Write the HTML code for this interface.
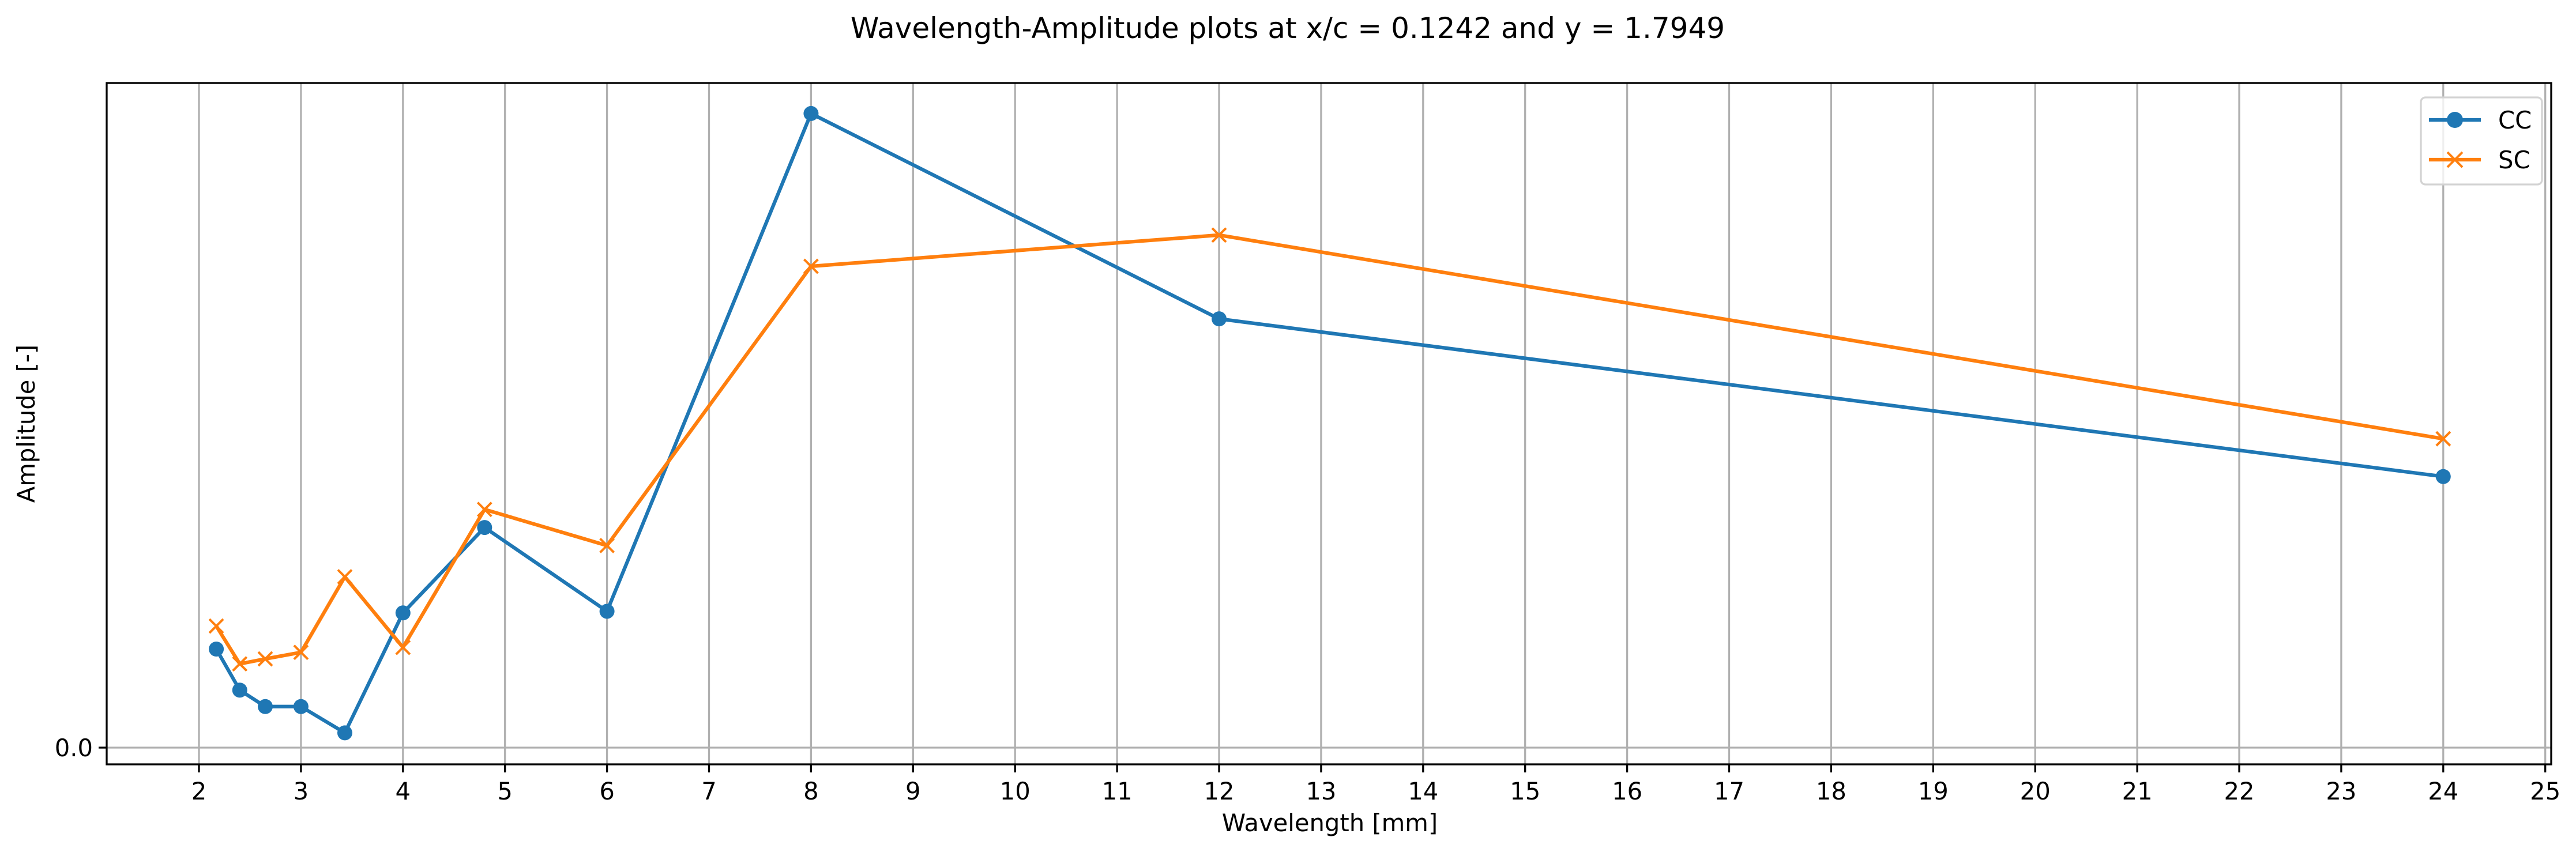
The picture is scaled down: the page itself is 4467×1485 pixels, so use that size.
<!DOCTYPE html>
<html><head><meta charset="utf-8"><style>html,body{margin:0;padding:0;background:#fff}svg{display:block}text{font-family:"DejaVu Sans","Liberation Sans",sans-serif}</style></head>
<body>
<svg id="chart" width="4467" height="1485" viewBox="0 0 4467 1485" xmlns="http://www.w3.org/2000/svg">
<rect width="4467" height="1485" fill="#fff"/>
<text x="2233" y="66" font-size="50" text-anchor="middle">Wavelength-Amplitude plots at x/c = 0.1242 and y = 1.7949</text>
<g id="grid"></g>
<g id="series"></g>
<g id="axes"></g>
<text x="2306" y="1442" font-size="41.7" text-anchor="middle">Wavelength [mm]</text>
<text x="0" y="0" font-size="41.7" text-anchor="middle" transform="translate(60,735) rotate(-90)">Amplitude [-]</text>
<g>
<rect x="4198" y="169" width="210" height="151" rx="8" fill="#fff" fill-opacity="0.8" stroke="#d3d3d3" stroke-width="3.3"/>
<line x1="4212" y1="208" x2="4302" y2="208" stroke="#1f77b4" stroke-width="6.25"/>
<circle cx="4257" cy="208" r="14" fill="#1f77b4"/>
<text x="4332" y="223" font-size="41.7">CC</text>
<line x1="4212" y1="277" x2="4302" y2="277" stroke="#ff7f0e" stroke-width="6.25"/>
<path d="M4244,264 L4270,290 M4244,290 L4270,264" stroke="#ff7f0e" stroke-width="4"/>
<text x="4332" y="292" font-size="41.7">SC</text>
</g>
</svg>
<script>
const wavelengths = [2.17, 2.4, 2.65, 3, 3.43, 4, 4.8, 6, 8, 12, 24];
const ccValues = [60, 35, 25, 25, 9, 82, 134, 83, 386, 261, 165];
const scValues = [74, 51, 54, 58, 104, 61, 145, 123, 293, 312, 188];
const xTicks = [2,3,4,5,6,7,8,9,10,11,12,13,14,15,16,17,18,19,20,21,22,23,24,25];
const yTicks = [0];
const yTickLabels = ["0.0"];

const NS = "http://www.w3.org/2000/svg";
const L = 185, R = 4424, T = 144, B = 1326;
const yScale = 2.85;
function xs(v){ return 345 + (v - 2) * 176.9; }
function ys(v){ return 1297 - v * yScale; }
function mk(tag, attrs, parent){ const e = document.createElementNS(NS, tag); for (const k in attrs) e.setAttribute(k, attrs[k]); parent.appendChild(e); return e; }

const grid = document.getElementById('grid');
const axes = document.getElementById('axes');
const series = document.getElementById('series');

xTicks.forEach(t => {
  const g = mk('line', {x1: xs(t), x2: xs(t), y1: T, y2: B, stroke: '#b0b0b0', 'stroke-width': 3.3}, grid);
  
  
  const tk = mk('line', {x1: xs(t), x2: xs(t), y1: B, y2: B + 14, stroke: '#000', 'stroke-width': 3.3}, axes);
  
  
  const lb = mk('text', {x: xs(t), y: B + 61, 'font-size': 41.7, 'text-anchor': 'middle'}, axes);
  lb.textContent = t;
  
  
});
yTicks.forEach((t, i) => {
  const g = mk('line', {x1: L, x2: R, y1: ys(t), y2: ys(t), stroke: '#b0b0b0', 'stroke-width': 3.3}, grid);
  
  
  const tk = mk('line', {x1: L - 14, x2: L, y1: ys(t), y2: ys(t), stroke: '#000', 'stroke-width': 3.3}, axes);
  
  
  const lb = mk('text', {x: L - 24, y: ys(t) + 15, 'font-size': 41.7, 'text-anchor': 'end'}, axes);
  lb.textContent = yTickLabels[i];
  
  
});
const frame = mk('rect', {x: L, y: T, width: R - L, height: B - T, fill: 'none', stroke: '#000', 'stroke-width': 3.3}, axes);



function drawSeries(vals, color, name, marker){
  const pts = wavelengths.map((w, i) => xs(w) + ',' + ys(vals[i])).join(' ');
  const pl = mk('polyline', {points: pts, fill: 'none', stroke: color, 'stroke-width': 6.25, 'stroke-linejoin': 'round'}, series);
  
  
  wavelengths.forEach((w, i) => {
    const x = xs(w), y = ys(vals[i]);
    let m;
    if (marker === 'o') {
      m = mk('circle', {cx: x, cy: y, r: 13, fill: color}, series);
    } else {
      m = mk('path', {d: `M${x-12},${y-12} L${x+12},${y+12} M${x-12},${y+12} L${x+12},${y-12}`, stroke: color, 'stroke-width': 4}, series);
    }
    
    
  });
}
drawSeries(ccValues, '#1f77b4', 'cc', 'o');
drawSeries(scValues, '#ff7f0e', 'sc', 'x');
</script>
</body></html>
